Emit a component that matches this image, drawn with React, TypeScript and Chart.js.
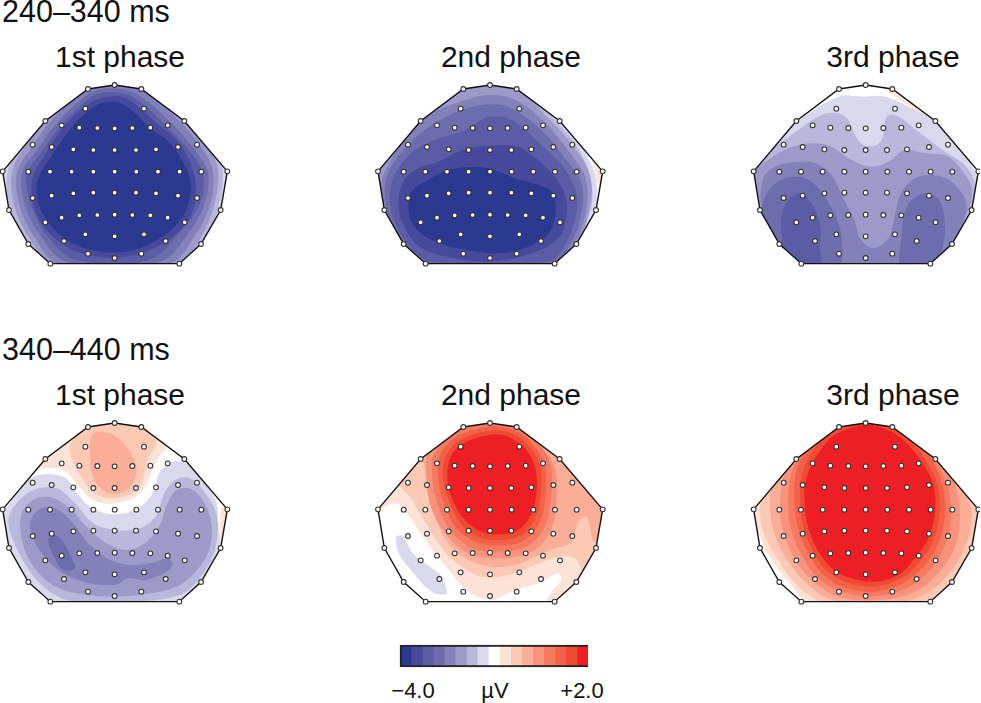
import React, { useEffect, useRef } from "react";
import { Chart, registerables } from "chart.js";

Chart.register(...registerables);

// colour scale from -4.0 to +2.0 µV
const levelColors = ["#2b3990", "#474a9c", "#5a5ca6", "#6d6dae", "#8480ba", "#9d99c9", "#bab7dc", "#d9d8ec", "#ffffff", "#fde3d7", "#fcc9b5", "#faae98", "#f9927c", "#f67a60", "#f36248", "#f04a35", "#ed1f24"];
const scaleEdges = [-4.0, -3.65, -3.29, -2.94, -2.59, -2.24, -1.88, -1.53, -1.18, -0.82, -0.47, -0.12, 0.24, 0.59, 0.94, 1.29, 1.65, 2.0];

// electrode positions relative to the top-most electrode
const outlineSites = [0, 0, 80, 12, 209, 108, 338, 259, 318, 375, 259, 477, 194, 536, -193, 536, -259, 477, -317, 375, -336, 259, -208, 108, -80, 12];
const innerSites = [
  -88, 71, 88, 71,
  -159, 121, -106, 128, -52, 129, 0, 130, 53, 129, 107, 128, 159, 121,
  -246, 179, -189, 186, -124, 193, -64, 195, 0, 195, 64, 195, 124, 193, 190, 186, 247, 179,
  -259, 260, -194, 260, -129, 260, -64, 260, 0, 260, 65, 260, 130, 260, 195, 260, 260, 260,
  -246, 339, -189, 332, -124, 325, -64, 323, 0, 323, 64, 323, 124, 325, 190, 332, 247, 339,
  -208, 412, -159, 398, -106, 391, -52, 390, 0, 389, 53, 390, 107, 391, 159, 398, 210, 412,
  -152, 468, -88, 448, 0, 454, 88, 448, 153, 468,
  -80, 506, 0, 519, 80, 506,
];

type Contour = [number, number[]];

const early1: Contour[] = [
  [7, [-20, -20, 725, -20, 725, 600, -20, 600]],
  [6, [344, 0, 430, 10, 560, 110, 640, 200, 668, 290, 655, 400, 610, 510, 540, 580, 150, 580, 80, 510, 30, 400, 22, 290, 70, 195, 130, 120, 260, 10]],
  [5, [344, 15, 430, 30, 550, 125, 625, 215, 655, 290, 640, 400, 595, 500, 530, 570, 160, 570, 95, 500, 45, 400, 36, 290, 85, 200, 145, 125, 260, 25]],
  [4, [344, 28, 425, 45, 535, 135, 610, 225, 640, 295, 628, 395, 580, 490, 510, 565, 175, 565, 105, 490, 60, 395, 50, 295, 100, 210, 155, 135, 265, 40]],
  [3, [340, 40, 415, 60, 515, 145, 592, 235, 625, 300, 612, 390, 565, 475, 480, 560, 200, 560, 120, 480, 75, 390, 66, 295, 115, 220, 170, 145, 270, 55]],
  [2, [335, 52, 405, 70, 500, 155, 578, 240, 610, 305, 600, 385, 545, 465, 445, 555, 230, 555, 140, 480, 92, 385, 80, 300, 125, 230, 180, 155, 275, 65]],
  [1, [330, 65, 375, 68, 415, 95, 470, 145, 520, 185, 560, 240, 585, 310, 585, 380, 560, 445, 505, 495, 425, 535, 345, 548, 245, 535, 170, 495, 115, 430, 95, 360, 100, 300, 135, 240, 175, 175, 230, 115, 285, 75]],
  [0, [320, 82, 360, 85, 400, 110, 450, 160, 500, 195, 540, 245, 570, 310, 570, 370, 545, 430, 495, 480, 420, 520, 345, 533, 250, 518, 180, 480, 130, 420, 110, 360, 115, 310, 150, 250, 190, 190, 240, 130, 290, 90]],
];

const early2: Contour[] = [
  [8, [-20, -20, 725, -20, 725, 600, -20, 600]],
  [9, [655, 240, 690, 280, 680, 340, 665, 320]],
  [7, [345, -10, 430, 10, 545, 125, 610, 200, 650, 270, 665, 330, 660, 410, 615, 500, 540, 580, 150, 580, 80, 510, 20, 400, 0, 290, 130, 130, 260, 20]],
  [6, [345, 0, 430, 25, 530, 125, 600, 205, 640, 290, 650, 390, 600, 490, 525, 575, 160, 575, 85, 500, 30, 400, 10, 290, 130, 135, 260, 30]],
  [5, [345, 30, 430, 45, 520, 130, 600, 220, 645, 300, 645, 400, 605, 510, 535, 580, 150, 580, 70, 500, 20, 400, 8, 300, 60, 210, 130, 130, 260, 45]],
  [4, [340, 60, 410, 70, 480, 115, 530, 165, 590, 240, 632, 310, 635, 400, 598, 510, 535, 575, 150, 575, 75, 500, 30, 420, 20, 320, 45, 260, 100, 180, 160, 120, 270, 75]],
  [3, [340, 88, 400, 95, 450, 125, 510, 175, 570, 250, 618, 320, 622, 400, 588, 505, 530, 570, 160, 570, 85, 510, 40, 420, 30, 330, 55, 265, 110, 200, 170, 150, 260, 105]],
  [2, [340, 125, 400, 130, 450, 165, 500, 210, 560, 270, 600, 340, 605, 410, 575, 500, 520, 560, 170, 560, 100, 510, 55, 430, 45, 350, 70, 280, 120, 225, 190, 190, 260, 170, 300, 145]],
  [1, [340, 212, 430, 215, 470, 240, 530, 295, 570, 360, 575, 420, 550, 490, 470, 535, 345, 560, 240, 550, 140, 520, 90, 460, 70, 390, 85, 320, 130, 280, 190, 260, 260, 225]],
  [0, [300, 275, 360, 285, 420, 310, 490, 330, 530, 350, 543, 400, 525, 470, 460, 515, 370, 535, 250, 520, 160, 490, 115, 450, 100, 400, 110, 350, 150, 320, 220, 285]],
];

const early3: Contour[] = [
  [8, [-20, -20, 725, -20, 725, 600, -20, 600]],
  [9, [400, 28, 500, 85, 600, 175, 590, 178, 500, 100]],
  [7, [350, 65, 420, 65, 500, 100, 570, 140, 640, 210, 690, 290, 700, 350, 680, 400, 620, 510, 560, 580, 160, 580, 100, 510, 40, 400, 20, 290, 80, 220, 150, 145, 280, 65]],
  [6, [105, 205, 160, 165, 230, 120, 280, 115, 310, 135, 330, 180, 355, 210, 395, 210, 415, 180, 425, 125, 455, 122, 520, 170, 600, 230, 660, 270, 690, 330, 680, 400, 620, 510, 560, 580, 160, 580, 100, 510, 40, 400, 25, 290, 60, 240]],
  [5, [30, 290, 70, 255, 130, 220, 200, 205, 260, 215, 320, 255, 380, 275, 430, 260, 480, 225, 540, 235, 610, 245, 650, 285, 680, 340, 672, 400, 620, 510, 560, 580, 160, 580, 100, 510, 45, 400]],
  [4, [55, 310, 90, 275, 150, 262, 210, 265, 260, 300, 295, 370, 330, 440, 345, 490, 385, 520, 430, 490, 450, 420, 470, 350, 520, 305, 590, 305, 640, 340, 665, 400, 620, 510, 560, 580, 160, 580, 100, 510, 50, 400]],
  [3, [50, 400, 80, 335, 140, 305, 200, 320, 260, 400, 290, 490, 275, 580, 100, 580, 60, 480]],
  [3, [480, 410, 500, 375, 545, 355, 585, 380, 600, 450, 590, 530, 560, 580, 470, 580, 470, 480]],
  [2, [110, 420, 130, 375, 165, 355, 200, 385, 225, 450, 225, 520, 225, 575, 130, 575, 110, 480]],
];

const late1: Contour[] = [
  [8, [-20, -20, 725, -20, 725, 600, -20, 600]],
  [9, [665, 280, 690, 280, 680, 350, 665, 395, 660, 340]],
  [9, [60, 190, 135, 125, 264, 30, 424, 30, 500, 100, 480, 120, 460, 160, 420, 235, 345, 265, 280, 255, 225, 200, 190, 165, 130, 160, 100, 170]],
  [10, [230, 60, 270, 35, 424, 35, 470, 75, 445, 130, 415, 220, 345, 250, 285, 235, 240, 180, 215, 130, 210, 95]],
  [11, [280, 55, 340, 60, 390, 110, 410, 170, 380, 225, 330, 235, 285, 200, 270, 130]],
  [7, [30, 265, 100, 185, 190, 185, 225, 225, 270, 275, 345, 298, 420, 275, 460, 230, 480, 170, 520, 140, 570, 150, 620, 210, 650, 265, 655, 330, 660, 400, 600, 510, 540, 562, 150, 562, 85, 505, 30, 400, 10, 310]],
  [6, [25, 320, 50, 265, 100, 225, 170, 220, 225, 265, 280, 325, 345, 345, 420, 340, 470, 300, 490, 240, 525, 195, 570, 190, 620, 240, 650, 300, 650, 380, 620, 460, 540, 540, 345, 560, 200, 555, 120, 505, 60, 420]],
  [5, [60, 330, 80, 270, 140, 245, 205, 275, 260, 335, 320, 385, 385, 405, 440, 380, 480, 330, 500, 270, 530, 225, 580, 225, 625, 290, 635, 370, 610, 440, 540, 510, 450, 535, 345, 545, 230, 535, 150, 505, 85, 430]],
  [4, [90, 330, 115, 285, 165, 280, 215, 320, 265, 385, 320, 430, 385, 450, 450, 445, 510, 430, 512, 460, 440, 495, 385, 490, 345, 510, 250, 500, 175, 465, 115, 400]],
  [3, [145, 375, 165, 360, 190, 380, 215, 430, 225, 460, 190, 465, 165, 430]],
];

const late2: Contour[] = [
  [8, [-20, -20, 725, -20, 725, 600, -20, 600]],
  [9, [0, 285, 30, 275, 65, 265, 100, 300, 150, 375, 205, 445, 270, 520, 345, 555, 420, 525, 490, 505, 550, 475, 558, 495, 530, 530, 515, 566, 560, 580, 720, 400, 720, 250, 560, 100, 430, 0, 260, 0, 120, 100, 40, 210]],
  [10, [60, 190, 105, 245, 150, 320, 190, 385, 240, 440, 320, 485, 400, 480, 480, 450, 550, 425, 600, 430, 625, 470, 650, 420, 720, 380, 720, 250, 560, 90, 430, 0, 260, 0, 120, 90]],
  [11, [150, 170, 160, 250, 185, 320, 220, 385, 270, 430, 345, 455, 420, 450, 480, 425, 540, 400, 590, 380, 610, 320, 635, 305, 660, 380, 720, 300, 720, 250, 600, 180, 540, 120, 430, 20, 260, 20, 150, 120]],
  [12, [345, 15, 430, 30, 510, 110, 540, 160, 545, 250, 530, 340, 480, 405, 380, 430, 280, 415, 215, 360, 170, 280, 155, 185, 160, 110, 250, 30]],
  [13, [345, 28, 425, 40, 490, 85, 527, 150, 528, 245, 510, 335, 460, 392, 375, 410, 290, 398, 230, 350, 190, 275, 172, 190, 178, 115, 245, 50]],
  [14, [345, 35, 425, 48, 475, 90, 510, 150, 512, 240, 495, 320, 450, 375, 375, 392, 300, 380, 245, 340, 208, 270, 190, 190, 195, 120, 245, 65]],
  [15, [345, 47, 410, 55, 460, 90, 495, 150, 498, 235, 480, 310, 440, 360, 375, 375, 310, 365, 260, 330, 225, 265, 205, 195, 212, 125, 255, 75]],
  [16, [345, 60, 400, 65, 450, 100, 480, 155, 485, 230, 470, 295, 430, 345, 375, 358, 320, 350, 270, 315, 235, 260, 218, 200, 225, 130, 265, 85]],
  [7, [65, 365, 85, 365, 110, 410, 150, 445, 195, 480, 215, 535, 170, 530, 120, 480, 80, 430, 65, 395]],
];

const late3: Contour[] = [
  [8, [-20, -20, 725, -20, 725, 600, -20, 600]],
  [9, [720, 300, 720, 420, 640, 520, 560, 580, 200, 565, 130, 500, 65, 410, 30, 320, 20, 280, 100, 150, 300, -20, 500, -20]],
  [10, [720, 300, 700, 420, 630, 510, 540, 570, 440, 580, 240, 565, 155, 510, 90, 420, 55, 350, 45, 280, 60, 210, 120, 100, 260, -10, 480, -10, 600, 110]],
  [11, [660, 230, 680, 300, 660, 395, 600, 490, 515, 550, 420, 565, 260, 555, 180, 500, 120, 425, 85, 345, 75, 280, 85, 190, 140, 100, 260, 0, 362, -20, 480, 0, 600, 120]],
  [12, [630, 210, 645, 300, 630, 395, 575, 480, 500, 535, 400, 555, 280, 545, 200, 495, 145, 425, 115, 350, 105, 280, 115, 190, 150, 110, 260, 10, 362, -10, 480, 10, 580, 120]],
  [13, [605, 205, 618, 300, 600, 390, 555, 465, 485, 520, 395, 543, 295, 532, 220, 490, 170, 420, 140, 350, 130, 280, 135, 190, 170, 110, 260, 20, 362, 0, 470, 20, 540, 90]],
  [14, [362, 15, 460, 35, 520, 80, 560, 135, 593, 210, 600, 300, 580, 385, 540, 450, 475, 505, 390, 530, 305, 520, 235, 480, 190, 415, 160, 345, 150, 280, 150, 190, 180, 110, 260, 35]],
  [15, [362, 22, 450, 40, 505, 85, 545, 140, 578, 210, 583, 295, 565, 375, 525, 440, 465, 492, 390, 514, 315, 505, 248, 470, 205, 410, 177, 345, 167, 280, 167, 200, 195, 120, 260, 50]],
  [16, [362, 30, 440, 50, 490, 90, 530, 140, 565, 210, 570, 290, 550, 370, 510, 430, 460, 480, 390, 500, 320, 490, 260, 460, 215, 400, 190, 340, 180, 280, 180, 210, 210, 130, 270, 60]],
];

const panelLayout = [
  { left: 0, top: 75, cx: 344, cy: 30, contours: early1 },
  { left: 375, top: 75, cx: 345, cy: 30, contours: early2 },
  { left: 745, top: 75, cx: 362, cy: 30, contours: early3 },
  { left: 0, top: 415, cx: 344, cy: 24, contours: late1 },
  { left: 375, top: 415, cx: 345, cy: 24, contours: late2 },
  { left: 745, top: 415, cx: 362, cy: 24, contours: late3 },
];

const labels = [
  { text: "240–340 ms", x: 2, base: 22, size: 30.5, anchor: "left" },
  { text: "340–440 ms", x: 2, base: 360, size: 30.5, anchor: "left" },
  { text: "1st phase", x: 120, base: 68, size: 30, anchor: "center" },
  { text: "2nd phase", x: 511, base: 68, size: 30, anchor: "center" },
  { text: "3rd phase", x: 893, base: 68, size: 30, anchor: "center" },
  { text: "1st phase", x: 120, base: 406, size: 30, anchor: "center" },
  { text: "2nd phase", x: 511, base: 406, size: 30, anchor: "center" },
  { text: "3rd phase", x: 893, base: 406, size: 30, anchor: "center" },
  { text: "−4.0", x: 413, base: 699, size: 22, anchor: "center" },
  { text: "µV", x: 495, base: 699, size: 22, anchor: "center" },
  { text: "+2.0", x: 582, base: 699, size: 22, anchor: "center" },
];

function toPoints(flat: number[], dx = 0, dy = 0) {
  const out: { x: number; y: number }[] = [];
  for (let i = 0; i < flat.length; i += 2) out.push({ x: flat[i] + dx, y: flat[i + 1] + dy });
  return out;
}

function closeLoop(p: { x: number; y: number }[]) {
  return [p[p.length - 1], ...p, p[0], p[1]];
}

function HeadMap({ left, top, cx, cy, contours }: (typeof panelLayout)[number]) {
  const ref = useRef<HTMLCanvasElement>(null);
  useEffect(() => {
    const outline = toPoints(outlineSites, cx, cy);
    const electrodes = [...outline, ...toPoints(innerSites, cx, cy)];
    const bandSets = contours.map(([level, flat], i) => ({
      data: closeLoop(toPoints(flat)),
      showLine: true,
      fill: "shape",
      tension: flat.length > 8 ? 0.35 : 0,
      borderWidth: 0,
      borderColor: "transparent",
      backgroundColor: levelColors[level],
      pointRadius: 0,
      order: 1000 - i,
    }));
    const headClip = {
      id: "headClip",
      beforeDatasetsDraw(chart: any) {
        const { ctx, scales } = chart;
        ctx.save();
        ctx.beginPath();
        outline.forEach((p, i) => {
          const px = scales.x.getPixelForValue(p.x);
          const py = scales.y.getPixelForValue(p.y);
          if (i === 0) ctx.moveTo(px, py);
          else ctx.lineTo(px, py);
        });
        ctx.closePath();
        ctx.clip();
      },
      beforeDatasetDraw(chart: any, args: any) {
        if (args.meta.controller.getDataset().label === "outline") chart.ctx.restore();
      },
    };
    const chart = new Chart(ref.current!, {
      type: "scatter",
      data: {
        datasets: [
          ...bandSets,
          {
            label: "outline",
            data: [...outline, outline[0]],
            showLine: true,
            fill: false,
            tension: 0,
            borderColor: "#111111",
            borderWidth: 1.4,
            pointRadius: 0,
            order: -1,
            clip: false,
          },
          {
            label: "electrodes",
            data: electrodes,
            showLine: false,
            pointRadius: 2.4,
            pointBorderWidth: 1.1,
            pointBackgroundColor: "#fbfbf5",
            pointBorderColor: "#333333",
            order: -2,
            clip: false,
          },
        ] as any,
      },
      options: {
        responsive: false,
        animation: false,
        events: [],
        layout: { padding: 0, autoPadding: false },
        elements: { line: { capBezierPoints: false } },
        scales: {
          x: { type: "linear", display: false, min: 0, max: 705 },
          y: { type: "linear", display: false, min: 0, max: 585, reverse: true },
        },
        plugins: { legend: { display: false }, tooltip: { enabled: false }, title: { display: false } },
      },
      plugins: [headClip],
    });
    return () => chart.destroy();
  }, []);
  return <canvas ref={ref} width={235} height={195} style={{ position: "absolute", left, top, display: "block" }} />;
}

function ColorScale() {
  const ref = useRef<HTMLCanvasElement>(null);
  useEffect(() => {
    const steps = levelColors.map((color, i) => ({
      data: [[scaleEdges[i], scaleEdges[i + 1]]],
      backgroundColor: color,
      borderWidth: 0,
      barPercentage: 1,
      categoryPercentage: 1,
      grouped: false,
      order: 10,
    }));
    const chart = new Chart(ref.current!, {
      type: "bar",
      data: {
        labels: ["µV"],
        datasets: [
          ...steps,
          {
            data: [[-4, 2]],
            backgroundColor: "transparent",
            borderColor: "#222222",
            borderWidth: 1.4,
            barPercentage: 1,
            categoryPercentage: 1,
            grouped: false,
            order: 1,
            clip: false,
          },
        ] as any,
      },
      options: {
        indexAxis: "y",
        responsive: false,
        animation: false,
        events: [],
        layout: { padding: 3, autoPadding: false },
        scales: {
          x: { type: "linear", display: false, min: -4, max: 2 },
          y: { display: false },
        },
        plugins: { legend: { display: false }, tooltip: { enabled: false } },
      },
    });
    return () => chart.destroy();
  }, []);
  return <canvas ref={ref} width={194} height={28} style={{ position: "absolute", left: 397, top: 642, display: "block" }} />;
}

export default function App() {
  return (
    <div style={{ position: "absolute", left: 0, top: 0, width: 981, height: 703, overflow: "hidden", background: "#fff", fontFamily: "'Liberation Sans', Arial, sans-serif", color: "#111" }}>
      {panelLayout.map((p, i) => (
        <HeadMap key={i} {...p} />
      ))}
      <ColorScale />
      {labels.map((l, i) => (
        <div
          key={i}
          style={{
            position: "absolute",
            top: l.base - l.size * 0.86,
            left: l.anchor === "left" ? l.x : l.x - 100,
            width: l.anchor === "left" ? undefined : 200,
            textAlign: l.anchor as any,
            fontSize: l.size,
            lineHeight: 1,
            whiteSpace: "nowrap",
          }}
        >
          {l.text}
        </div>
      ))}
    </div>
  );
}
